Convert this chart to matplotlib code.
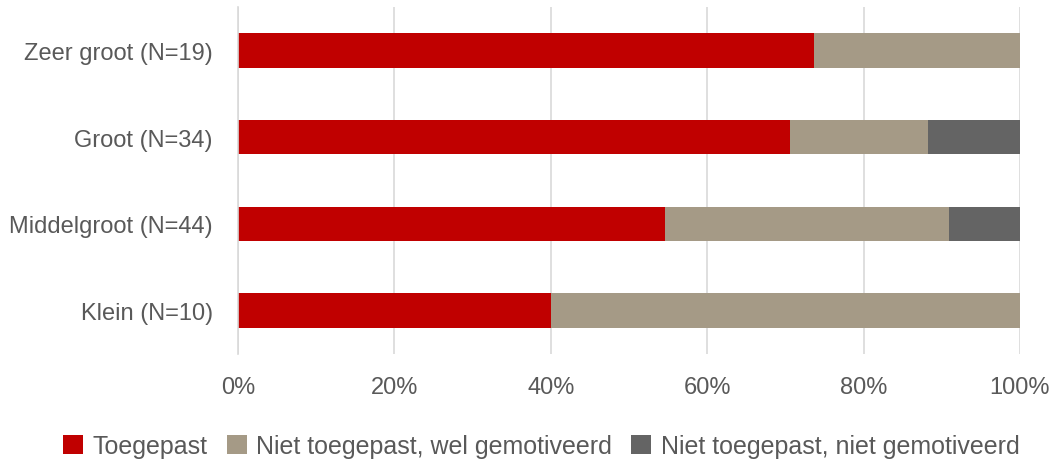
import matplotlib
matplotlib.use("Agg")
import matplotlib.pyplot as plt
import numpy as np

plt.rcParams['font.family'] = ['Liberation Sans', 'DejaVu Sans']

categories = ["Zeer groot (N=19)", "Groot (N=34)", "Middelgroot (N=44)", "Klein (N=10)"]
series_names = ["Toegepast", "Niet toegepast, wel gemotiveerd", "Niet toegepast, niet gemotiveerd"]
toegepast = [14/19, 24/34, 24/44, 4/10]
wel_gemotiveerd = [5/19, 6/34, 16/44, 6/10]
niet_gemotiveerd = [0/19, 4/34, 4/44, 0/10]
colors = ["#C00000", "#A59A86", "#646464"]
xticks = [0, 0.2, 0.4, 0.6, 0.8, 1.0]
xticklabels = ["0%", "20%", "40%", "60%", "80%", "100%"]

FS = 17
LFS = 18
TXT = "#595959"
fig = plt.figure(figsize=(10.56, 4.64), dpi=100)
ax = fig.add_axes([238/1056, 1 - 355/464, (1020-238)/1056, (355-8)/464])

y = np.arange(len(categories))
left = np.zeros(len(categories))
for vals, name, c in zip([toegepast, wel_gemotiveerd, niet_gemotiveerd], series_names, colors):
    ax.barh(y, vals, left=left, height=0.4, color=c, label=name, zorder=3)
    left += np.array(vals)

ax.set_ylim(len(categories) - 0.5, -0.5)
ax.set_xlim(0, 1)
ax.set_yticks(y)
ax.set_yticklabels(categories, fontsize=FS, color=TXT)
ax.set_xticks(xticks)
ax.set_xticklabels(xticklabels, fontsize=FS, color=TXT)
ax.tick_params(axis='both', length=0)
ax.tick_params(axis='y', pad=18)
ax.tick_params(axis='x', pad=16)
ax.grid(axis='x', color="#D9D9D9", linewidth=1.2, zorder=0)
for s in ["top", "right", "bottom"]:
    ax.spines[s].set_visible(False)
ax.spines["left"].set_color("#D9D9D9")
ax.spines["left"].set_linewidth(1.2)
ax.spines["left"].set_zorder(4)

handles, labels = ax.get_legend_handles_labels()
fig.legend(handles, labels, loc="center", bbox_to_anchor=(541.5/1056, 1 - 447/464), ncol=3,
           frameon=False, fontsize=LFS, handlelength=0.8, handleheight=0.8,
           handletextpad=0.38, columnspacing=0.76, labelcolor=TXT,
           borderpad=0, borderaxespad=0)

fig.savefig("out.png", dpi=100)
